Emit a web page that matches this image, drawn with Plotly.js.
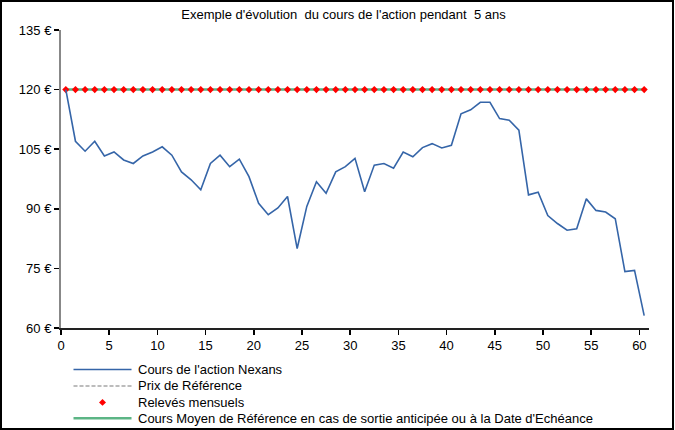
<!DOCTYPE html>
<html>
<head>
<meta charset="utf-8">
<script src="https://cdn.plot.ly/plotly-3.0.1.min.js"></script>
<style>
  html, body { margin: 0; padding: 0; background: #fff; }
  #wrap { position: relative; width: 675px; height: 430px; }
  #chart { width: 675px; height: 430px; }
  #frame { position: absolute; left: 0; top: 0; width: 674px; height: 430px; box-sizing: border-box; border: 2.5px solid #000; pointer-events: none; }
</style>
</head>
<body>
<div id="wrap"><div id="chart"></div><div id="frame"></div></div>
<script>
// Months (category axis)
const mois = [0,1,2,3,4,5,6,7,8,9,10,11,12,13,14,15,16,17,18,19,20,21,22,23,24,25,26,27,28,29,30,
              31,32,33,34,35,36,37,38,39,40,41,42,43,44,45,46,47,48,49,50,51,52,53,54,55,56,57,58,59,60];
// Cours de l'action Nexans (EUR)
const coursNexans = [120, 107, 104.5, 107, 103.3, 104.3, 102.3, 101.4, 103.3, 104.3, 105.6, 103.5, 99.3, 97.3, 94.8,
                     101.4, 103.5, 100.6, 102.5, 98.1, 91.4, 88.5, 90.2, 93.1, 80, 90.6, 96.8, 93.9, 99.3, 100.6,
                     102.7, 94.3, 101, 101.4, 100.2, 104.3, 103.1, 105.4, 106.4, 105.3, 106, 113.9, 114.9, 116.8,
                     116.8, 112.7, 112.3, 109.8, 93.5, 94.2, 88.3, 86.3, 84.6, 85, 92.5, 89.6, 89.2, 87.5, 74.2, 74.5, 63.1];
// Relevés mensuels (EUR)
const relevesMensuels = [120,120,120,120,120,120,120,120,120,120,120,120,120,120,120,120,120,120,120,120,120,
                         120,120,120,120,120,120,120,120,120,120,120,120,120,120,120,120,120,120,120,120,
                         120,120,120,120,120,120,120,120,120,120,120,120,120,120,120,120,120,120,120,120];
// Prix de Référence and Cours Moyen de Référence (start / end of period)
const periode = [0, 60];
const prixReference = [120, 120];
const coursMoyenReference = [120, 120];
// Axis ticks
const yTicks = [60, 75, 90, 105, 120, 135];
const yTickText = ['60 €', '75 €', '90 €', '105 €', '120 €', '135 €'];
const xTickText = ['0','5','10','15','20','25','30','35','40','45','50','55','60'];
const xTickPos = [-0.5, 4.5, 9.5, 14.5, 19.5, 24.5, 29.5, 34.5, 39.5, 44.5, 49.5, 54.5, 59.5];
// Legend labels
const legendLabels = ['Cours de l\'action Nexans', 'Prix de Référence', 'Relevés mensuels',
                      'Cours Moyen de Référence en cas de sortie anticipée ou à la Date d\'Echéance'];

const FONT = 'Liberation Sans, Arial, sans-serif';
const COL_BLUE = '#3565a8', COL_GREY = '#a6a6a6', COL_RED = '#ff0000', COL_GREEN = '#5cb585';

// plot-area geometry (px) for placing the hand-made legend
const M = { l: 61, r: 26, t: 30, b: 101.5 };
const W = 675, H = 430;
const PW = W - M.l - M.r, PH = H - M.t - M.b;
const px = v => (v - M.l) / PW;
const py = v => (H - M.b - v) / PH;

const traces = [
  { x: periode, y: prixReference, type: 'scatter', mode: 'lines', name: legendLabels[1],
    line: { color: COL_GREY, width: 1.5, dash: '4px,2px' } },
  { x: periode, y: coursMoyenReference, type: 'scatter', mode: 'lines', name: legendLabels[3],
    line: { color: COL_GREEN, width: 2.5 } },
  { x: mois, y: relevesMensuels, type: 'scatter', mode: 'markers', name: legendLabels[2],
    marker: { color: COL_RED, symbol: 'diamond', size: 5.5 } },
  { x: mois, y: coursNexans, type: 'scatter', mode: 'lines', name: legendLabels[0],
    line: { color: COL_BLUE, width: 1.6 } }
];

// hand-made legend (Excel style: long line samples, tight rows)
const rowY = [370, 386.5, 403, 419];
const lx0 = 73.5, lx1 = 131.5, tx = 136;
const shapes = [
  { type: 'line', xref: 'paper', yref: 'paper', x0: px(lx0), x1: px(lx1), y0: py(rowY[0]), y1: py(rowY[0]),
    line: { color: COL_BLUE, width: 1.6 } },
  { type: 'line', xref: 'paper', yref: 'paper', x0: px(lx0), x1: px(lx1), y0: py(rowY[1]), y1: py(rowY[1]),
    line: { color: COL_GREY, width: 1.5, dash: '4px,2px' } },
  { type: 'path', xref: 'paper', yref: 'paper',
    path: 'M' + px(102.5 - 3.5) + ',' + py(rowY[2]) + ' L' + px(102.5) + ',' + py(rowY[2] - 3.5) +
          ' L' + px(102.5 + 3.5) + ',' + py(rowY[2]) + ' L' + px(102.5) + ',' + py(rowY[2] + 3.5) + ' Z',
    fillcolor: COL_RED, line: { width: 0 } },
  { type: 'line', xref: 'paper', yref: 'paper', x0: px(lx0), x1: px(lx1), y0: py(rowY[3]), y1: py(rowY[3]),
    line: { color: COL_GREEN, width: 2.5 } }
];
const annotations = legendLabels.map((t, i) => ({
  text: t, xref: 'paper', yref: 'paper', x: px(tx), y: py(rowY[i]), xanchor: 'left', yanchor: 'middle',
  showarrow: false, font: { family: FONT, size: 13, color: '#000' }
}));

const layout = {
  width: W, height: H,
  margin: { l: M.l, r: M.r, t: M.t, b: M.b, pad: 0 },
  paper_bgcolor: '#fff', plot_bgcolor: '#fff',
  font: { family: FONT, size: 13, color: '#000' },
  title: { text: 'Exemple d\'évolution \u00a0du cours de l\'action pendant \u00a05 ans',
           x: 343.5 / W, xanchor: 'center', xref: 'container', y: 1 - 14 / H, yanchor: 'middle', yref: 'container',
           font: { family: FONT, size: 13, color: '#000' } },
  xaxis: {
    range: [-0.5, 60.5], showgrid: false, zeroline: false,
    showline: true, linecolor: '#222', linewidth: 1.5,
    tickmode: 'array', tickvals: xTickPos, ticktext: xTickText, ticklabelshift: 4.8,
    ticks: 'outside', ticklen: 5, tickwidth: 1.5, tickcolor: '#000',
    tickfont: { family: FONT, size: 13, color: '#000' }
  },
  yaxis: {
    range: [60, 135], showgrid: false, zeroline: false,
    showline: true, linecolor: '#888', linewidth: 2,
    tickmode: 'array', tickvals: yTicks, ticktext: yTickText,
    ticks: 'outside', ticklen: 5, tickwidth: 1.5, tickcolor: '#000',
    tickfont: { family: FONT, size: 13, color: '#000' }
  },
  showlegend: false,
  shapes: shapes,
  annotations: annotations
};

Plotly.newPlot('chart', traces, layout, { staticPlot: true, displayModeBar: false });
</script>
</body>
</html>
